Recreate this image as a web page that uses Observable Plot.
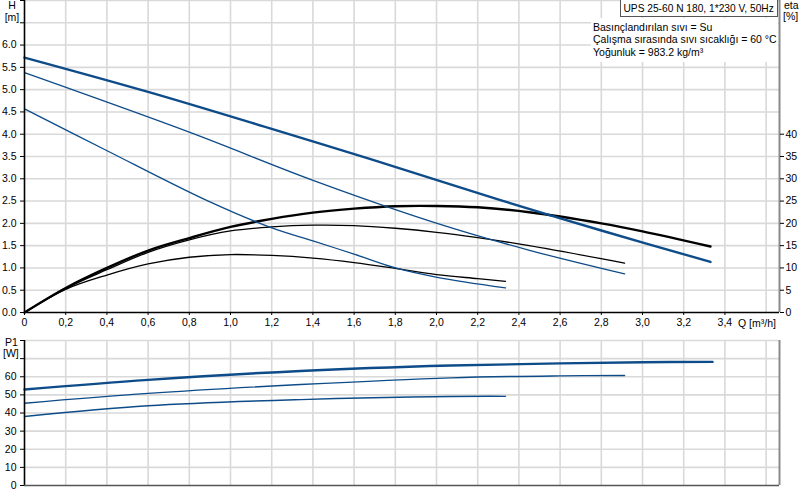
<!DOCTYPE html>
<html><head><meta charset="utf-8">
<script src="https://cdn.jsdelivr.net/npm/d3@7"></script>
<script src="https://cdn.jsdelivr.net/npm/@observablehq/plot@0.6"></script>
<style>
body{margin:0;background:#fff;font-family:"Liberation Sans",Arial,sans-serif;font-size:10.5px;color:#000}
#wrap{position:relative;width:803px;height:500px;overflow:hidden;background:#fff}
.lbl{position:absolute;white-space:nowrap;line-height:10px}
#titlebox{position:absolute;left:620px;top:-1px;width:156px;height:16px;border:1px solid #555;background:#fff;line-height:12px;font-size:10.2px}
#titlebox span{position:absolute;left:2.5px;top:3px;white-space:nowrap}
#notes{position:absolute;left:591px;top:18px;width:187px;height:44px;background:#fff}
#notes div{position:absolute;left:2px;white-space:nowrap;line-height:12px}
</style></head><body>
<div id="wrap">
<div id="chartTop" style="position:absolute;left:0;top:0"></div>
<div id="chartBot" style="position:absolute;left:0;top:330px"></div>
<div id="notes">
  <div style="top:2.8px">Basınçlandırılan sıvı = Su</div>
  <div style="top:15.1px">Çalışma sırasında sıvı sıcaklığı = 60 °C</div>
  <div style="top:27.5px">Yoğunluk = 983.2 kg/m³</div>
</div>
<div id="titlebox"><span>UPS 25-60 N 180, 1*230 V, 50Hz</span></div>
<div class="lbl" style="left:0;width:24px;text-align:center;top:0px">H</div>
<div class="lbl" style="left:0;width:24px;text-align:center;top:11.5px">[m]</div>
<div class="lbl" style="left:784px;top:0px">eta</div>
<div class="lbl" style="left:783px;top:10.5px">[%]</div>
<div class="lbl" style="left:738px;top:317.5px">Q [m³/h]</div>
<div class="lbl" style="left:5px;top:337px">P1</div>
<div class="lbl" style="left:3px;top:347.5px">[W]</div>
</div>
<script>
// Head curves H [m] vs Q [m3/h] for speeds 3, 2, 1
const qH3 = [0, 0.6, 1.2, 1.68, 2.31, 2.8, 3.33];
const H3  = [5.72, 4.95, 4.12, 3.44, 2.52, 1.84, 1.135];
const qH2 = [0, 0.803, 1.404, 2.003, 2.456, 2.913];
const H2  = [5.38, 4.04, 2.96, 2.0, 1.39, 0.866];
const qH1 = [0, 0.401, 0.887, 1.194, 1.404, 1.6, 1.801, 2.003, 2.335];
const H1  = [4.57, 3.63, 2.51, 1.91, 1.6, 1.31, 1.0, 0.79, 0.553];
// Efficiency curves eta [%]
const qE3 = [0, 0.2, 0.4, 0.6, 0.8, 1.0, 1.2, 1.4, 1.6, 1.8, 2.0, 2.2, 2.45, 2.8, 3.0, 3.33];
const E3  = [0, 5.5, 10.0, 13.9, 16.7, 19.2, 21.0, 22.4, 23.3, 23.85, 23.9, 23.6, 22.5, 20.0, 18.2, 14.8];
const qE2 = [0, 0.2, 0.4, 0.6, 0.8, 1.0, 1.2, 1.4, 1.6, 1.8, 2.0, 2.2, 2.45, 2.913];
const E2  = [0, 5.4, 9.6, 13.5, 16.3, 18.3, 19.2, 19.6, 19.5, 18.9, 18.0, 16.8, 15.0, 11.1];
const qE1 = [0, 0.2, 0.4, 0.6, 0.8, 1.0, 1.2, 1.4, 1.6, 1.8, 2.0, 2.2, 2.335];
const E1  = [0, 5.2, 8.4, 10.9, 12.4, 13.0, 12.8, 12.2, 11.2, 9.9, 8.5, 7.6, 7.0];
// Power input P1 [W]
const qP3 = [0, 0.6, 1.34, 2.07, 2.6, 3.0, 3.34];
const P3  = [53, 58.3, 63.2, 66.2, 67.4, 68.0, 68.2];
const qP2 = [0, 0.6, 1.34, 2.07, 2.6, 2.913];
const P2  = [45.4, 50.8, 55.7, 59.4, 60.5, 60.7];
const qP1 = [0, 0.6, 1.34, 2.07, 2.335];
const P1  = [38.1, 44.0, 47.4, 49.1, 49.2];
// Ticks
const qTicks = [0, 0.2, 0.4, 0.6, 0.8, 1.0, 1.2, 1.4, 1.6, 1.8, 2.0, 2.2, 2.4, 2.6, 2.8, 3.0, 3.2, 3.4];
const qGrid = [0.2, 0.4, 0.6, 0.8, 1.0, 1.2, 1.4, 1.6, 1.8, 2.0, 2.2, 2.4, 2.6, 2.8, 3.0, 3.2, 3.4, 3.6];
const hTicks = [0, 0.5, 1, 1.5, 2, 2.5, 3, 3.5, 4, 4.5, 5, 5.5, 6, 6.5, 7];
const etaTicks = [0, 5, 10, 15, 20, 25, 30, 35, 40];
const pTicks = [0, 10, 20, 30, 40, 50, 60, 70, 80];

const QMAX = 3.665;
const BLUE = "#0e4c89";
const GRID = "#d9d9d9";
const pts = (qs, vs) => qs.map((q, i) => ({q, v: vs[i]}));
const plotStyle = {fontFamily: "Liberation Sans, Arial, sans-serif", fontSize: "10.5px", color: "#000", background: "transparent", overflow: "visible"};
const curve = "catmull-rom";
const fmtQ = d => d === 0 ? "0" : d.toFixed(1).replace(".", ",");

const upper = Plot.plot({
  width: 803, height: 330, marginLeft: 24, marginRight: 24, marginTop: 0, marginBottom: 18,
  x: {domain: [0, QMAX]},
  y: {domain: [0, 7]},
  style: plotStyle,
  marks: [
    Plot.gridX(qGrid, {stroke: GRID, strokeOpacity: 1, strokeWidth: 1.6}),
    Plot.gridY(hTicks.filter(d => d > 0), {stroke: GRID, strokeOpacity: 1, strokeWidth: 1.6}),
    Plot.ruleX([QMAX], {stroke: "#8a8a8a", strokeWidth: 2}),
    Plot.line(pts(qE1, E1), {x: "q", y: d => d.v / 10, stroke: "#000", strokeWidth: 1.3, curve}),
    Plot.line(pts(qE2, E2), {x: "q", y: d => d.v / 10, stroke: "#000", strokeWidth: 1.3, curve}),
    Plot.line(pts(qE3, E3), {x: "q", y: d => d.v / 10, stroke: "#000", strokeWidth: 2.4, curve}),
    Plot.line(pts(qH1, H1), {x: "q", y: "v", stroke: BLUE, strokeWidth: 1.3, curve}),
    Plot.line(pts(qH2, H2), {x: "q", y: "v", stroke: BLUE, strokeWidth: 1.3, curve}),
    Plot.line(pts(qH3, H3), {x: "q", y: "v", stroke: BLUE, strokeWidth: 2.4, curve}),
    Plot.axisX({ticks: qTicks, tickFormat: fmtQ, tickSize: 3, tickPadding: 3, label: null}),
    Plot.axisY({ticks: hTicks, tickFormat: d => d <= 6 ? d.toFixed(1) : "", tickSize: 4, tickPadding: 4, label: null}),
    Plot.axisY({anchor: "right", ticks: etaTicks.map(e => e / 10), tickFormat: d => String(Math.round(d * 10)), tickSize: 4, tickPadding: 2, label: null}),
    Plot.ruleX([0], {stroke: "#000", strokeWidth: 1.6}),
    Plot.ruleY([0], {stroke: "#000", strokeWidth: 1.6})
  ]
});
document.getElementById("chartTop").append(upper);

const lower = Plot.plot({
  width: 803, height: 170, marginLeft: 24, marginRight: 24, marginTop: 10, marginBottom: 15,
  x: {domain: [0, QMAX], axis: null},
  y: {domain: [0, 80]},
  style: plotStyle,
  marks: [
    Plot.gridX(qGrid, {stroke: GRID, strokeOpacity: 1, strokeWidth: 1.6}),
    Plot.gridY(pTicks.filter(d => d > 0), {stroke: GRID, strokeOpacity: 1, strokeWidth: 1.6}),
    Plot.ruleX([QMAX], {stroke: "#8a8a8a", strokeWidth: 2}),
    Plot.line(pts(qP1, P1), {x: "q", y: "v", stroke: BLUE, strokeWidth: 1.4, curve}),
    Plot.line(pts(qP2, P2), {x: "q", y: "v", stroke: BLUE, strokeWidth: 1.4, curve}),
    Plot.line(pts(qP3, P3), {x: "q", y: "v", stroke: BLUE, strokeWidth: 2.4, curve}),
    Plot.axisY({ticks: pTicks, tickFormat: d => d <= 60 ? String(d) : "", tickSize: 4, tickPadding: 4, label: null}),
    Plot.ruleX([0], {stroke: "#000", strokeWidth: 1.6}),
    Plot.ruleY([0], {stroke: "#555", strokeWidth: 1.4})
  ]
});
document.getElementById("chartBot").append(lower);
</script>
</body></html>
